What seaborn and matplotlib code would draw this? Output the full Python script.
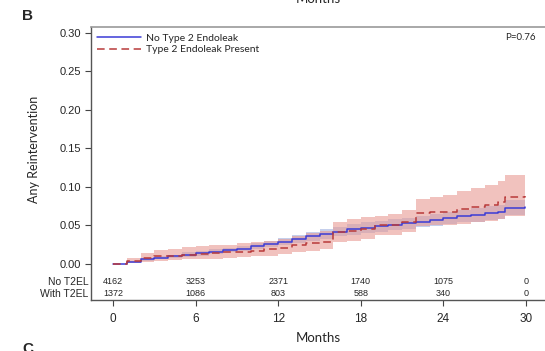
import numpy as np
import pandas as pd
import seaborn as sns
import matplotlib.pyplot as plt

# Kaplan-Meier style cumulative incidence
months = [0, 1, 2, 3, 4, 5, 6, 7, 8, 9, 10, 11, 12, 13, 14, 15, 16, 17, 18, 19,
          20, 21, 22, 23, 24, 25, 26, 27, 28, 28.5, 29.9]

no_t2el = [0, 0.003, 0.006, 0.008, 0.010, 0.012, 0.014, 0.016, 0.018, 0.020,
           0.023, 0.026, 0.029, 0.032, 0.036, 0.039, 0.042, 0.045, 0.047, 0.049,
           0.051, 0.053, 0.055, 0.057, 0.060, 0.062, 0.064, 0.066, 0.068, 0.073, 0.074]
no_t2el_lo = [0, 0.002, 0.004, 0.006, 0.008, 0.009, 0.011, 0.013, 0.015, 0.017,
              0.019, 0.022, 0.024, 0.027, 0.030, 0.033, 0.036, 0.038, 0.040, 0.042,
              0.044, 0.046, 0.048, 0.049, 0.052, 0.054, 0.055, 0.057, 0.059, 0.063, 0.064]
no_t2el_hi = [0, 0.004, 0.008, 0.010, 0.012, 0.015, 0.017, 0.019, 0.021, 0.023,
              0.027, 0.030, 0.034, 0.037, 0.042, 0.045, 0.048, 0.052, 0.054, 0.056,
              0.058, 0.060, 0.062, 0.065, 0.068, 0.070, 0.073, 0.075, 0.077, 0.083, 0.084]

with_t2el = [0, 0.004, 0.008, 0.010, 0.011, 0.012, 0.013, 0.014, 0.015, 0.016,
             0.017, 0.019, 0.021, 0.024, 0.027, 0.029, 0.041, 0.043, 0.046, 0.050,
             0.051, 0.055, 0.066, 0.067, 0.068, 0.072, 0.074, 0.076, 0.080, 0.087, 0.088]
with_t2el_lo = [0, 0.001, 0.003, 0.004, 0.005, 0.006, 0.007, 0.007, 0.008, 0.009,
                0.010, 0.011, 0.013, 0.015, 0.017, 0.019, 0.028, 0.030, 0.033, 0.037,
                0.038, 0.041, 0.049, 0.050, 0.050, 0.052, 0.054, 0.056, 0.058, 0.062, 0.063]
with_t2el_hi = [0, 0.008, 0.014, 0.018, 0.020, 0.022, 0.023, 0.024, 0.025, 0.027,
                0.028, 0.030, 0.033, 0.036, 0.040, 0.043, 0.055, 0.058, 0.061, 0.062,
                0.065, 0.070, 0.085, 0.087, 0.090, 0.095, 0.099, 0.103, 0.108, 0.116, 0.116]

# numbers at risk
risk_months = [0, 6, 12, 18, 24, 30]
risk_no = [4162, 3253, 2371, 1740, 1075, 0]
risk_with = [1372, 1086, 803, 588, 340, 0]
risk_labels = ['No T2EL', 'With T2EL']

sns.set_theme(style='ticks')
plt.rcParams['font.family'] = ['Liberation Sans', 'DejaVu Sans']

df = pd.DataFrame({'months': months, 'no': no_t2el, 'with': with_t2el})

fig = plt.figure(figsize=(5.45, 3.51), dpi=100)
ax = fig.add_axes([91 / 545, 51 / 351, 454 / 545, 273 / 351])

blue = '#3b3bd6'
red = '#b83a3a'

ax.fill_between(months, no_t2el_lo, no_t2el_hi, step='post', color='#9fb0e0', alpha=0.6, lw=0)
ax.fill_between(months, with_t2el_lo, with_t2el_hi, step='post', color='#e89a94', alpha=0.6, lw=0)

sns.lineplot(data=df, x='months', y='no', ax=ax, color=blue, lw=1.1,
             drawstyle='steps-post', label='No Type 2 Endoleak')
sns.lineplot(data=df, x='months', y='with', ax=ax, color=red, lw=1.1,
             drawstyle='steps-post', linestyle=(0, (5, 3)), label='Type 2 Endoleak Present')

ax.set_xlim(-1.6, 31.38)
ax.set_ylim(-0.0468, 0.3078)
ax.set_yticks([0, 0.05, 0.10, 0.15, 0.20, 0.25, 0.30])
ax.set_yticklabels(['%.2f' % v for v in ax.get_yticks()], fontsize=8)
ax.set_xticks(risk_months)
ax.set_xticklabels([str(m) for m in risk_months], fontsize=8.5)
ax.tick_params(axis='both', length=4, width=0.8, color='#444444', pad=3)
ax.tick_params(axis='x', pad=5)

for sp in ['left', 'bottom']:
    ax.spines[sp].set_color('#555555')
    ax.spines[sp].set_linewidth(1.0)
ax.spines['top'].set_color('#999999')
ax.spines['top'].set_linewidth(1.2)
ax.spines['right'].set_visible(False)

ax.set_xlabel('')
ax.set_ylabel('Any Reintervention', fontsize=9, family=['Lato', 'DejaVu Sans'])
ax.yaxis.set_label_coords(-0.112, 0.55)

# risk table inside the axes
for m, n1, n2 in zip(risk_months, risk_no, risk_with):
    ax.text(m, -0.0234, str(n1), ha='center', va='center', fontsize=6.5)
    ax.text(m, -0.039, str(n2), ha='center', va='center', fontsize=6.5)
ax.text(-0.006, (300 - 282) / 273, risk_labels[0], transform=ax.transAxes,
        ha='right', va='center', fontsize=7.5)
ax.text(-0.006, (300 - 294) / 273, risk_labels[1], transform=ax.transAxes,
        ha='right', va='center', fontsize=7.5)

leg = ax.legend(loc='upper left', frameon=False, handlelength=4.2,
                borderaxespad=0.2, labelspacing=0.25, handletextpad=0.5,
                prop={'family': ['Lato', 'DejaVu Sans'], 'size': 7.5})

fig.text(536 / 545, 1 - 37 / 351, 'P=0.76', ha='right', va='center', fontsize=7,
         family=['Lato', 'DejaVu Sans'])

fig.text(318 / 545, 1 - 338 / 351, 'Months', ha='center', va='center', fontsize=9.5,
         family=['Lato', 'DejaVu Sans'])
# cut-off labels of the neighbouring panels, as in the source figure
fig.text(318 / 545, 1 - 3 / 351, 'Months', ha='center', va='baseline', fontsize=9.5,
         family=['Lato', 'DejaVu Sans'])
fig.text(22 / 545, 1 - 20 / 351, 'B', ha='left', va='baseline', fontsize=11, weight='bold')
fig.text(22 / 545, 1 - 342 / 351, 'C', ha='left', va='top', fontsize=11, weight='bold')

fig.savefig('out.png', dpi=100)
